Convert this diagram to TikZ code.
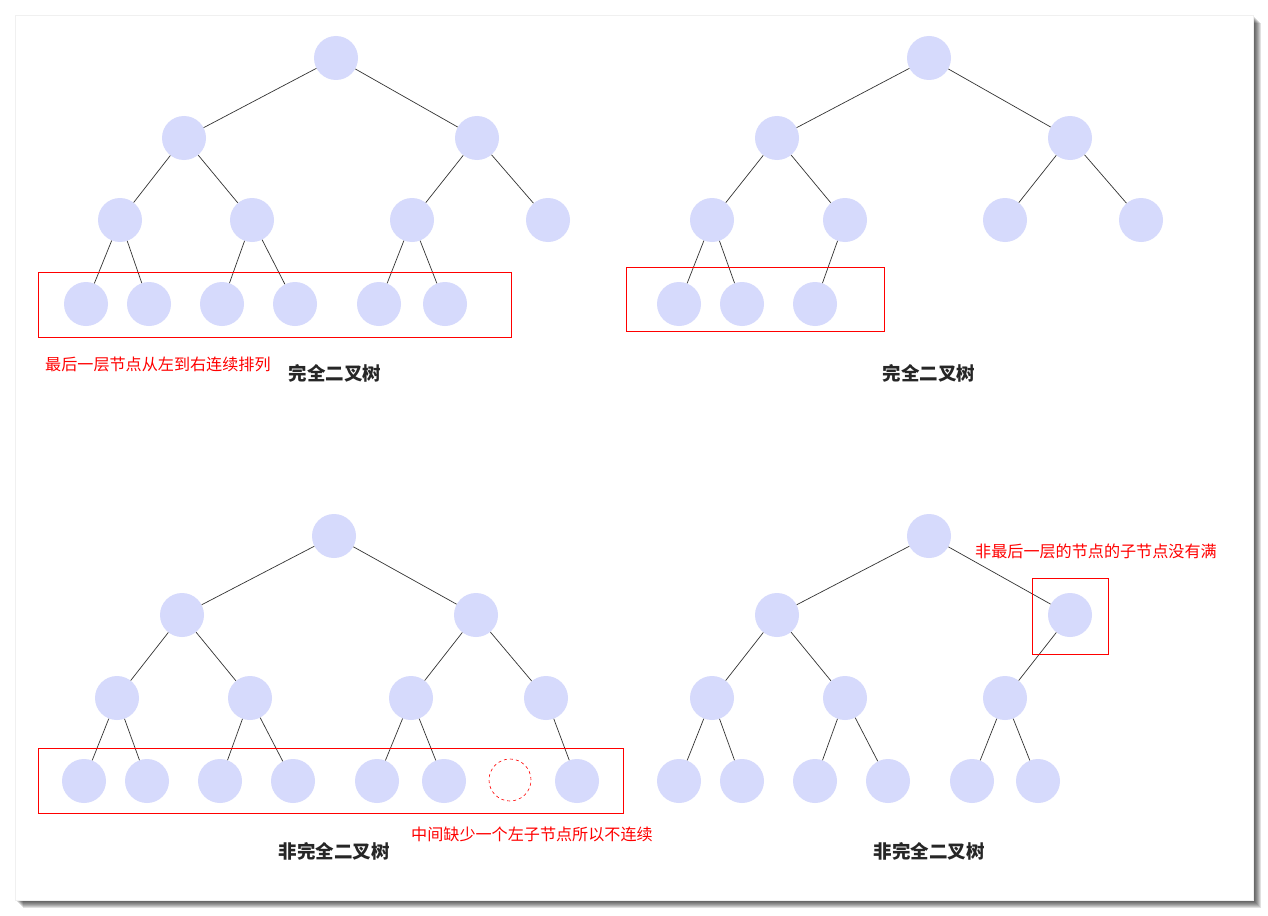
\documentclass[tikz,border=0pt]{standalone}
\usepackage{fontspec}
\newfontfamily\cjk{Noto Sans CJK SC}
\definecolor{nodefill}{RGB}{214,218,252}
\tikzset{
  tn/.style={circle, fill=nodefill, minimum size=44pt, inner sep=0pt},
  gap/.style={circle, draw=red, dashed, line width=0.6pt, minimum size=42pt, inner sep=0pt},
  edge/.style={draw=black!80, line width=0.7pt},
  hl/.style={draw=red, line width=0.8pt},
  note/.style={text=red, font=\cjk\fontsize{16.1}{17}\selectfont, anchor=west, inner sep=0pt},
  title/.style={font=\cjk\bfseries\fontsize{18.5}{19}\selectfont, text=black!85},
}
\begin{document}
\begin{tikzpicture}[x=1pt, y=-1pt]

  \useasboundingbox (0,0) rectangle (1268,915);

  % Page with shadow
  \foreach \d in {1,...,8}
    \fill[black, opacity=0.12] (15+\d,15+\d) rectangle (1253+\d,900+\d);
  \fill[white, draw=black!6] (15,15) rectangle (1253,900);

  % Top-left tree
  \node[tn] (A0) at (336,58) {};
  \node[tn] (A1) at (184,138) {};
  \node[tn] (A2) at (477,138) {};
  \node[tn] (A3) at (120,220) {};
  \node[tn] (A4) at (252,220) {};
  \node[tn] (A5) at (412,220) {};
  \node[tn] (A6) at (548,220) {};
  \node[tn] (A7) at (86,304) {};
  \node[tn] (A8) at (149,304) {};
  \node[tn] (A9) at (222,304) {};
  \node[tn] (A10) at (295,304) {};
  \node[tn] (A11) at (379,304) {};
  \node[tn] (A12) at (445,304) {};
  \draw[edge] (A0) -- (A1) (A0) -- (A2) (A1) -- (A3) (A1) -- (A4)
    (A2) -- (A5) (A2) -- (A6) (A3) -- (A7) (A3) -- (A8)
    (A4) -- (A9) (A4) -- (A10) (A5) -- (A11) (A5) -- (A12);
  \draw[hl] (38,272) rectangle (511,337);
  \node[note] (noteA) at (45,364) {最后一层节点从左到右连续排列};
  \node[title] (titleA) at (335,373) {完全二叉树};

  % Top-right tree
  \node[tn] (B0) at (929,58) {};
  \node[tn] (B1) at (777,138) {};
  \node[tn] (B2) at (1070,138) {};
  \node[tn] (B3) at (712,220) {};
  \node[tn] (B4) at (845,220) {};
  \node[tn] (B5) at (1005,220) {};
  \node[tn] (B6) at (1141,220) {};
  \node[tn] (B7) at (679,304) {};
  \node[tn] (B8) at (742,304) {};
  \node[tn] (B9) at (815,304) {};
  \draw[edge] (B0) -- (B1) (B0) -- (B2) (B1) -- (B3) (B1) -- (B4)
    (B2) -- (B5) (B2) -- (B6) (B3) -- (B7) (B3) -- (B8) (B4) -- (B9);
  \draw[hl] (626,267) rectangle (884,331);
  \node[title] (titleB) at (929,373) {完全二叉树};

  % Bottom-left tree
  \node[tn] (C0) at (334,536) {};
  \node[tn] (C1) at (182,615) {};
  \node[tn] (C2) at (476,615) {};
  \node[tn] (C3) at (117,698) {};
  \node[tn] (C4) at (250,698) {};
  \node[tn] (C5) at (411,698) {};
  \node[tn] (C6) at (546,698) {};
  \node[tn] (C7) at (84,781) {};
  \node[tn] (C8) at (147,781) {};
  \node[tn] (C9) at (220,781) {};
  \node[tn] (C10) at (293,781) {};
  \node[tn] (C11) at (377,781) {};
  \node[tn] (C12) at (444,781) {};
  \node[gap] (Cx) at (510,780) {};
  \node[tn] (C13) at (577,781) {};
  \draw[edge] (C0) -- (C1) (C0) -- (C2) (C1) -- (C3) (C1) -- (C4)
    (C2) -- (C5) (C2) -- (C6) (C3) -- (C7) (C3) -- (C8)
    (C4) -- (C9) (C4) -- (C10) (C5) -- (C11) (C5) -- (C12) (C6) -- (C13);
  \draw[hl] (38,748) rectangle (623,813);
  \node[note] (noteC) at (411,834) {中间缺少一个左子节点所以不连续};
  \node[title] (titleC) at (334,851) {非完全二叉树};

  % Bottom-right tree
  \node[tn] (D0) at (929,536) {};
  \node[tn] (D1) at (777,615) {};
  \node[tn] (D2) at (1070,615) {};
  \node[tn] (D3) at (712,698) {};
  \node[tn] (D4) at (845,698) {};
  \node[tn] (D5) at (1005,698) {};
  \node[tn] (D6) at (679,781) {};
  \node[tn] (D7) at (742,781) {};
  \node[tn] (D8) at (815,781) {};
  \node[tn] (D9) at (888,781) {};
  \node[tn] (D10) at (972,781) {};
  \node[tn] (D11) at (1038,781) {};
  \draw[edge] (D0) -- (D1) (D0) -- (D2) (D1) -- (D3) (D1) -- (D4)
    (D2) -- (D5) (D3) -- (D6) (D3) -- (D7) (D4) -- (D8) (D4) -- (D9)
    (D5) -- (D10) (D5) -- (D11);
  \draw[hl] (1032,578) rectangle (1108,654);
  \node[note] (noteD) at (975,551) {非最后一层的节点的子节点没有满};
  \node[title] (titleD) at (929,851) {非完全二叉树};

\end{tikzpicture}
\end{document}
